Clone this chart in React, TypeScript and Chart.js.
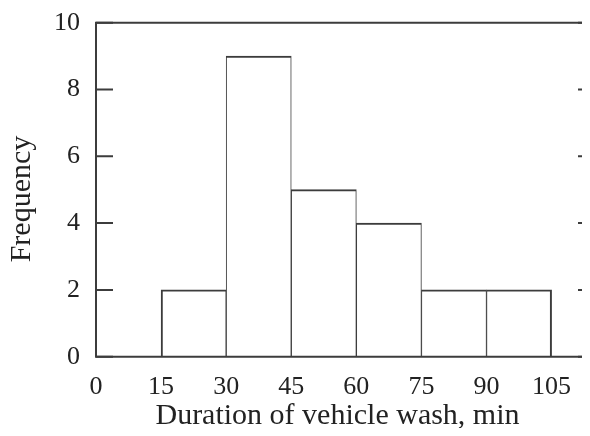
import React, { useEffect, useRef } from "react";
import { Chart, registerables } from "chart.js";

Chart.register(...registerables);

const binCenters = [22.5, 37.5, 52.5, 67.5, 82.5, 97.5];
const frequencies = [2, 9, 5, 4, 2, 2];
const xTitle = "Duration of vehicle wash, min";
const yTitle = "Frequency";

const FONT = "'Liberation Serif', 'Times New Roman', serif";
const LINE = "#3c3c3c";
const TEXT = "#222222";
const W = 600;
const H = 420;

const framePlugin = {
  id: "frame",
  afterDraw(chart: any) {
    const { ctx, chartArea: a, scales } = chart;
    const y = scales.y;
    ctx.save();
    ctx.strokeStyle = LINE;
    ctx.lineWidth = 2;
    ctx.beginPath();
    ctx.moveTo(a.left, a.top);
    ctx.lineTo(a.right, a.top);
    ctx.lineTo(a.right, a.bottom);
    ctx.lineTo(a.left, a.bottom);
    ctx.closePath();
    ctx.stroke();
    const tl = 17;
    y.ticks.forEach((t: any) => {
      const py = y.getPixelForValue(t.value);
      ctx.beginPath();
      ctx.moveTo(a.left, py);
      ctx.lineTo(a.left + tl, py);
      ctx.moveTo(a.right, py);
      ctx.lineTo(a.right - tl, py);
      ctx.stroke();
    });
    ctx.fillStyle = TEXT;
    ctx.font = `30px ${FONT}`;
    ctx.textAlign = "center";
    ctx.textBaseline = "alphabetic";
    ctx.fillText(xTitle, 329.5, 416);
    ctx.translate(22, 191);
    ctx.rotate(-Math.PI / 2);
    ctx.fillText(yTitle, 0, 0);
    ctx.restore();
  },
};

export default function App() {
  const ref = useRef<HTMLCanvasElement>(null);
  useEffect(() => {
    if (!ref.current) return;
    const chart = new Chart(ref.current, {
      type: "bar",
      data: {
        datasets: [
          {
            data: binCenters.map((x, i) => ({ x, y: frequencies[i] })),
            backgroundColor: "#ffffff",
            borderColor: LINE,
            borderWidth: (c: any) => ({
              top: 2,
              bottom: 0,
              left: c.dataIndex === 0 ? 2 : 1,
              right: c.dataIndex === frequencies.length - 1 ? 2 : 1,
            }),
            borderSkipped: false,
            barPercentage: 1,
            categoryPercentage: 1,
          } as any,
        ],
      },
      options: {
        animation: false,
        responsive: false,
        maintainAspectRatio: false,
        layout: { padding: { left: 0, top: 14.7, right: 13, bottom: 0 } },
        plugins: { legend: { display: false }, tooltip: { enabled: false } },
        scales: {
          x: {
            type: "linear",
            min: 0,
            max: 115,
            offset: false,
            grid: { display: false, drawTicks: false },
            border: { display: false },
            ticks: {
              stepSize: 15,
              includeBounds: false,
              maxRotation: 0,
              autoSkip: false,
              padding: 15,
              color: TEXT,
              font: { family: FONT, size: 26 },
            },
            afterFit: (s: any) => {
              s.height = H - 348.7;
              s.paddingLeft = 0;
              s.paddingRight = 0;
            },
          },
          y: {
            min: 0,
            max: 10,
            grid: { display: false, drawTicks: false },
            border: { display: false },
            ticks: {
              stepSize: 2,
              padding: 16,
              color: TEXT,
              font: { family: FONT, size: 26 },
            },
            afterFit: (s: any) => {
              s.width = 88;
              s.paddingTop = 0;
              s.paddingBottom = 0;
            },
          },
        },
      },
      plugins: [framePlugin],
    } as any);
    return () => chart.destroy();
  }, []);
  return (
    <div style={{ width: 582, height: H, overflow: "hidden" }}>
      <canvas ref={ref} width={W} height={H} style={{ display: "block", width: W, height: H }} />
    </div>
  );
}
